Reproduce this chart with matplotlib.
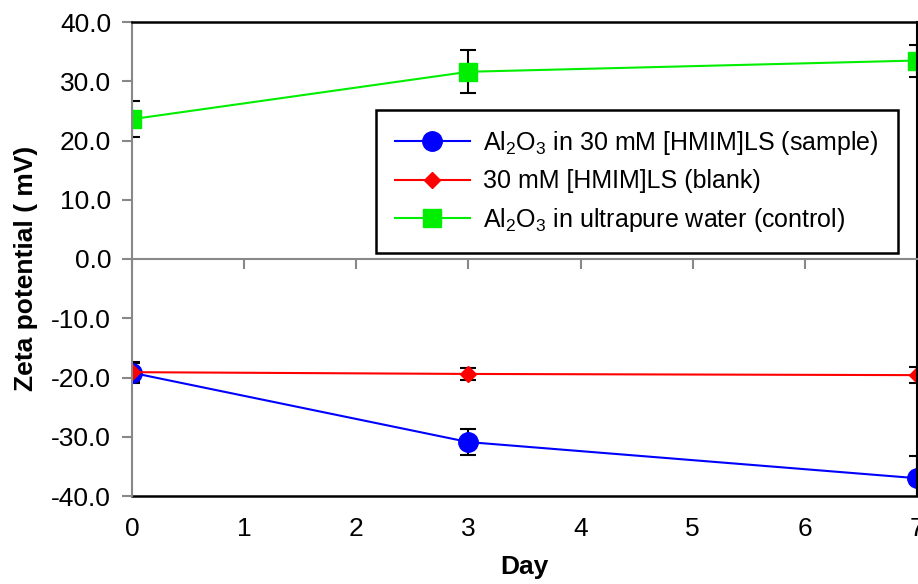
import matplotlib
matplotlib.use("Agg")
import matplotlib.pyplot as plt
from matplotlib.ticker import FormatStrFormatter

plt.rcParams['font.family'] = ['Liberation Sans', 'DejaVu Sans']
plt.rcParams['mathtext.fontset'] = 'custom'
plt.rcParams['mathtext.rm'] = 'Liberation Sans'
plt.rcParams['mathtext.default'] = 'regular'
plt.rcParams['axes.unicode_minus'] = False

days = [0, 3, 7]
sample = [-19.2, -30.9, -37.0]
sample_err = [1.8, 2.2, 3.7]
blank = [-19.1, -19.4, -19.6]
blank_err = [1.5, 1.0, 1.4]
control = [23.6, 31.6, 33.5]
control_err = [3.0, 3.6, 2.7]

labels = [r'Al$_2$O$_3$ in 30 mM [HMIM]LS (sample)',
          '30 mM [HMIM]LS (blank)',
          r'Al$_2$O$_3$ in ultrapure water (control)']
xticks = [0, 1, 2, 3, 4, 5, 6, 7]
yticks = [-40, -30, -20, -10, 0, 10, 20, 30, 40]

fig = plt.figure(figsize=(9.18, 5.84), dpi=100)
ax = fig.add_axes([132/918, 1-496/584, (917-132)/918, (496-22)/584])

fs = 19
lfs = 19
legfs = 18
ekw = dict(ecolor='black', elinewidth=1.5, capsize=6, capthick=1.5)
c1 = ax.errorbar(days, sample, yerr=sample_err, color='#0000FF', marker='o', ms=14,
                 lw=1.5, **ekw)
c2 = ax.errorbar(days, blank, yerr=blank_err, color='#FF0000', marker='D', ms=8.5,
                 lw=1.5, **ekw)
c3 = ax.errorbar(days, control, yerr=control_err, color='#00EE00', marker='s', ms=12.5,
                 lw=1.5, **ekw)

ax.set_xlim(0, 7)
ax.set_ylim(-40, 40)
ax.set_yticks(yticks)
ax.yaxis.set_major_formatter(FormatStrFormatter('%.1f'))
ax.set_xticks(xticks)

gray = '#888888'
ax.spines['left'].set_color(gray)
ax.spines['left'].set_linewidth(1.5)
ax.spines['bottom'].set_position(('data', 0))
ax.spines['bottom'].set_color(gray)
ax.spines['bottom'].set_linewidth(1.5)
ax.spines['top'].set_color('black')
ax.spines['top'].set_linewidth(1.8)
ax.spines['right'].set_color('black')
ax.spines['right'].set_linewidth(1.5)
ax.tick_params(axis='y', direction='out', length=7, width=1.5, color=gray,
               labelsize=fs, pad=8)
ax.tick_params(axis='x', direction='out', length=7, width=1.5, color=gray,
               labelbottom=False)

sec = ax.secondary_xaxis('bottom')
sec.set_xticks(xticks)
sec.spines['bottom'].set_color('black')
sec.spines['bottom'].set_linewidth(1.8)
sec.tick_params(axis='x', length=0, labelsize=fs, pad=15)
sec.set_xlabel('Day', fontsize=lfs, fontweight='bold', labelpad=10)

ax.set_ylabel('Zeta potential ( mV)', fontsize=lfs, fontweight='bold')
ax.yaxis.set_label_coords(-0.12, 0.48)

handles = [c1.lines[0], c2.lines[0], c3.lines[0]]
leg = ax.legend(handles, labels, loc='upper left',
                bbox_to_anchor=((376-132)/785, (496-110)/474),
                fontsize=legfs, frameon=True, fancybox=False, framealpha=1,
                edgecolor='black', handlelength=3.0, labelspacing=0.5,
                borderpad=0.75, handletextpad=0.55, borderaxespad=0)
leg.get_frame().set_linewidth(1.8)

fig.savefig('out.png', dpi=100)
